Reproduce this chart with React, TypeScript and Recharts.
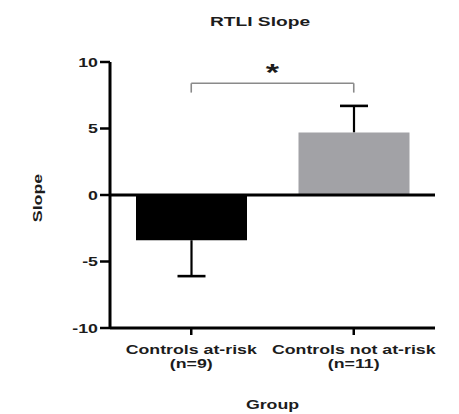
import React from "react";
import { BarChart, Bar, XAxis, YAxis, Cell, ReferenceLine, Label } from "recharts";

const groups = ["Controls at-risk", "Controls not at-risk"];
const groupN = [9, 11];
const meanSlope = [-3.4, 4.7];
const semSlope = [2.7, 2.0];
const yTicks = [-10, -5, 0, 5, 10];
// significance bracket (y values)
const bracketTop = 8.4;
const bracketFoot = 7.7;

const FONT = "'Liberation Sans', Arial, sans-serif";
const TEXT = "#1c1c1c";
const STRETCH = 1.42;
const barFills = ["#000000", "#a2a2a6"];

const chartData = groups.map((g, i) => ({
  group: g,
  n: groupN[i],
  mean: meanSlope[i],
  err: [meanSlope[i], meanSlope[i] + Math.sign(meanSlope[i]) * semSlope[i]],
}));

const GroupTick = (props: any) => {
  const { x, y, payload, index } = props;
  return (
    <g transform={`translate(${x},${y}) scale(${STRETCH},1)`}>
      <text textAnchor="middle" fontFamily={FONT} fontSize={12.5} fontWeight="bold" fill={TEXT}>
        <tspan x={0} dy={17}>{payload.value}</tspan>
        <tspan x={0} dy={14.5}>{`(n=${chartData[index]?.n ?? ""})`}</tspan>
      </text>
    </g>
  );
};

const SlopeTick = (props: any) => {
  const { x, y, payload } = props;
  return (
    <g transform={`translate(${x},${y}) scale(${STRETCH},1)`}>
      <text textAnchor="end" dy="0.36em" fontFamily={FONT} fontSize={12.5} fontWeight="bold" fill={TEXT}>
        {payload.value}
      </text>
    </g>
  );
};

// whisker drawn away from zero, cap at the far end
const Whisker = (props: any) => {
  const { x, y, width, height, payload } = props;
  if (x == null || y == null) return null;
  const cx = x + width / 2;
  const a = Math.min(y, y + height);
  const b = Math.max(y, y + height);
  const neg = payload.mean < 0;
  const start = neg ? a : b;
  const end = neg ? b : a;
  return (
    <g>
      <line x1={cx} x2={cx} y1={start} y2={end} stroke="#000" strokeWidth={2.2} />
      <line x1={cx - 14} x2={cx + 14} y1={end} y2={end} stroke="#000" strokeWidth={2.6} />
    </g>
  );
};

export default function App() {
  return (
    <div style={{ position: "absolute", left: 0, top: 0, width: 459, height: 414, background: "#fff" }}>
      <div
        style={{
          position: "absolute",
          left: 260,
          top: 15,
          transform: `translateX(-50%) scaleX(${STRETCH})`,
          fontFamily: FONT,
          fontSize: 13.5,
          lineHeight: "13px",
          fontWeight: "bold",
          color: TEXT,
          whiteSpace: "nowrap",
        }}
      >
        RTLI Slope
      </div>
      <BarChart width={459} height={414} data={chartData} margin={{ top: 62, right: 24, left: 0, bottom: 0 }}>
        <XAxis
          xAxisId="main"
          dataKey="group"
          height={86}
          axisLine={{ stroke: "#000", strokeWidth: 3 }}
          tickLine={{ stroke: "#000", strokeWidth: 2.5 }}
          tickSize={7}
          tick={<GroupTick />}
          interval={0}
        >
          <Label
            content={(p: any) => {
              const vb = p.viewBox || {};
              return (
                <g transform={`translate(${vb.x + vb.width / 2},${vb.y + 81}) scale(${STRETCH},1)`}>
                  <text textAnchor="middle" fontFamily={FONT} fontSize={12.5} fontWeight="bold" fill={TEXT}>
                    Group
                  </text>
                </g>
              );
            }}
          />
        </XAxis>
        <XAxis xAxisId="err" dataKey="group" hide height={0} />
        <YAxis
          width={110}
          domain={[-10, 10]}
          ticks={yTicks}
          interval={0}
          axisLine={{ stroke: "#000", strokeWidth: 3 }}
          tickLine={{ stroke: "#000", strokeWidth: 2.5 }}
          tickSize={10}
          tickMargin={2}
          tick={<SlopeTick />}
        >
          <Label
            content={(p: any) => {
              const vb = p.viewBox || {};
              return (
                <g transform={`translate(${vb.x + 42},${vb.y + vb.height / 2 + 3}) rotate(-90) scale(${STRETCH},1)`}>
                  <text textAnchor="middle" fontFamily={FONT} fontSize={12.5} fontWeight="bold" fill={TEXT}>
                    Slope
                  </text>
                </g>
              );
            }}
          />
        </YAxis>
        <Bar xAxisId="err" dataKey="err" barSize={111} shape={<Whisker />} isAnimationActive={false} />
        <Bar xAxisId="main" dataKey="mean" barSize={111} isAnimationActive={false}>
          {chartData.map((d, i) => (
            <Cell key={d.group} fill={barFills[i]} />
          ))}
        </Bar>
        <ReferenceLine xAxisId="main" y={0} stroke="#000" strokeWidth={3} />
        <ReferenceLine
          xAxisId="main"
          segment={[{ x: groups[0], y: bracketTop }, { x: groups[1], y: bracketTop }]}
          stroke="#8a8a8a"
          strokeWidth={1.6}
          label={{
            content: (p: any) => {
              const vb = p.viewBox || {};
              const cx = vb.x + vb.width / 2;
              return (
                <g transform={`translate(${cx},${vb.y - 2}) scale(${STRETCH},1)`}>
                  <text textAnchor="middle" fontFamily={FONT} fontSize={24} fontWeight="bold" fill={TEXT}>
                    *
                  </text>
                </g>
              );
            },
          }}
        />
        <ReferenceLine
          xAxisId="main"
          segment={[{ x: groups[0], y: bracketTop }, { x: groups[0], y: bracketFoot }]}
          stroke="#8a8a8a"
          strokeWidth={1.6}
        />
        <ReferenceLine
          xAxisId="main"
          segment={[{ x: groups[1], y: bracketTop }, { x: groups[1], y: bracketFoot }]}
          stroke="#8a8a8a"
          strokeWidth={1.6}
        />
      </BarChart>
    </div>
  );
}
